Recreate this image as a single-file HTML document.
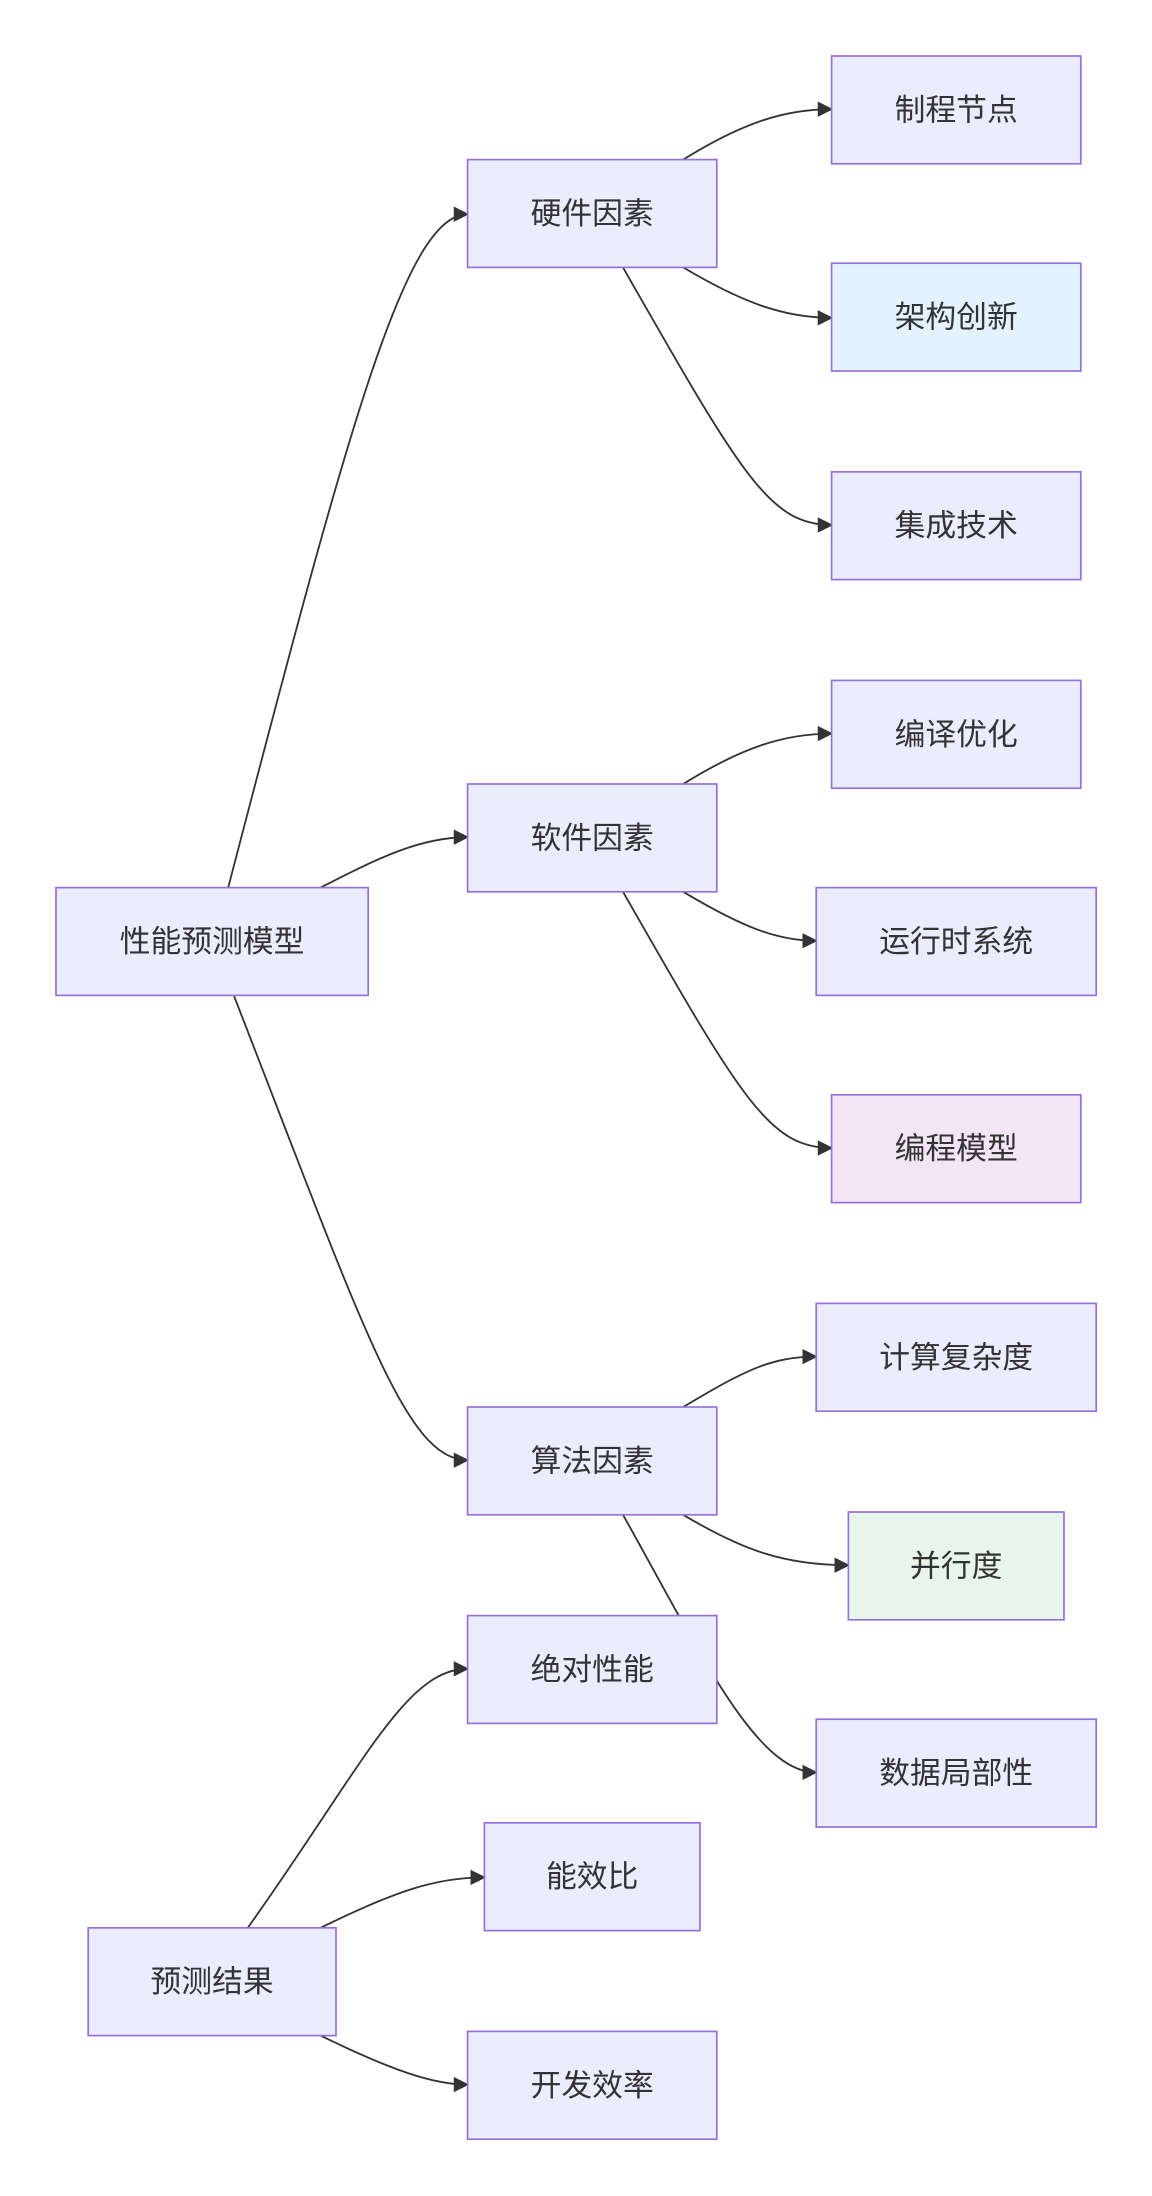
<!DOCTYPE html>
<html><head><meta charset="utf-8"><style>
html,body{margin:0;padding:0;background:#fff;}
svg{display:block;}
text{font-family:"Liberation Sans","Noto Sans CJK SC",sans-serif;font-size:22px;fill:#333;text-anchor:middle;dominant-baseline:central;}
.n{fill:#ECECFF;stroke:#9370DB;stroke-width:1.2;}
.e{fill:none;stroke:#333;stroke-width:1.3;}
</style></head><body>
<svg width="1152" height="2196" viewBox="0 0 822.86 1568.57" preserveAspectRatio="none" xmlns="http://www.w3.org/2000/svg">
<defs><marker id="a" viewBox="0 0 10 10" refX="9" refY="5" markerWidth="11" markerHeight="11" markerUnits="userSpaceOnUse" orient="auto"><path d="M0,0 L10,5 L0,10 z" fill="#333"/></marker></defs>
<g class="e">
<path d="M163,634 C 250,300 290,153 334,153" marker-end="url(#a)"/>
<path d="M229,634 C 270,613 300,598 334,598" marker-end="url(#a)"/>
<path d="M167,711 C 260,950 290,1043 334,1043" marker-end="url(#a)"/>
<path d="M488,114 C 530,88 560,78 594,78" marker-end="url(#a)"/>
<path d="M488,191 C 530,216 560,227 594,227" marker-end="url(#a)"/>
<path d="M445,191 C 530,340 550,375 594,375" marker-end="url(#a)"/>
<path d="M488,560 C 530,534 560,524 594,524" marker-end="url(#a)"/>
<path d="M488,637 C 530,662 555,672 583,672" marker-end="url(#a)"/>
<path d="M445,637 C 530,786 550,820 594,820" marker-end="url(#a)"/>
<path d="M488,1005 C 530,980 550,969 583,969" marker-end="url(#a)"/>
<path d="M488,1082 C 530,1107 560,1118 606,1118" marker-end="url(#a)"/>
<path d="M445,1082 C 500,1180 540,1266 583,1266" marker-end="url(#a)"/>
<path d="M177,1377 C 260,1260 290,1192 334,1192" marker-end="url(#a)"/>
<path d="M229,1377 C 280,1352 310,1341 346,1341" marker-end="url(#a)"/>
<path d="M229,1454 C 280,1479 310,1489 334,1489" marker-end="url(#a)"/>
</g>
<rect class="n" x="40" y="634" width="223" height="77"/><text x="151.5" y="672.5">性能预测模型</text>
<rect class="n" x="334" y="114" width="178" height="77"/><text x="423" y="152.5">硬件因素</text>
<rect class="n" x="334" y="560" width="178" height="77"/><text x="423" y="598.5">软件因素</text>
<rect class="n" x="334" y="1005" width="178" height="77"/><text x="423" y="1043.5">算法因素</text>
<rect class="n" x="594" y="40" width="178" height="77"/><text x="683" y="78.5">制程节点</text>
<rect class="n" x="594" y="188" width="178" height="77" style="fill:#E3F2FD"/><text x="683" y="226.5">架构创新</text>
<rect class="n" x="594" y="337" width="178" height="77"/><text x="683" y="375.5">集成技术</text>
<rect class="n" x="594" y="486" width="178" height="77"/><text x="683" y="524.5">编译优化</text>
<rect class="n" x="583" y="634" width="200" height="77"/><text x="683" y="672.5">运行时系统</text>
<rect class="n" x="594" y="782" width="178" height="77" style="fill:#F3E5F5"/><text x="683" y="820.5">编程模型</text>
<rect class="n" x="583" y="931" width="200" height="77"/><text x="683" y="969.5">计算复杂度</text>
<rect class="n" x="606" y="1080" width="154" height="77" style="fill:#E8F5E9"/><text x="683" y="1118.5">并行度</text>
<rect class="n" x="583" y="1228" width="200" height="77"/><text x="683" y="1266.5">数据局部性</text>
<rect class="n" x="334" y="1154" width="178" height="77"/><text x="423" y="1192.5">绝对性能</text>
<rect class="n" x="346" y="1302" width="154" height="77"/><text x="423" y="1340.5">能效比</text>
<rect class="n" x="63" y="1377" width="177" height="77"/><text x="151.5" y="1415.5">预测结果</text>
<rect class="n" x="334" y="1451" width="178" height="77"/><text x="423" y="1489.5">开发效率</text>
</svg>
</body></html>
